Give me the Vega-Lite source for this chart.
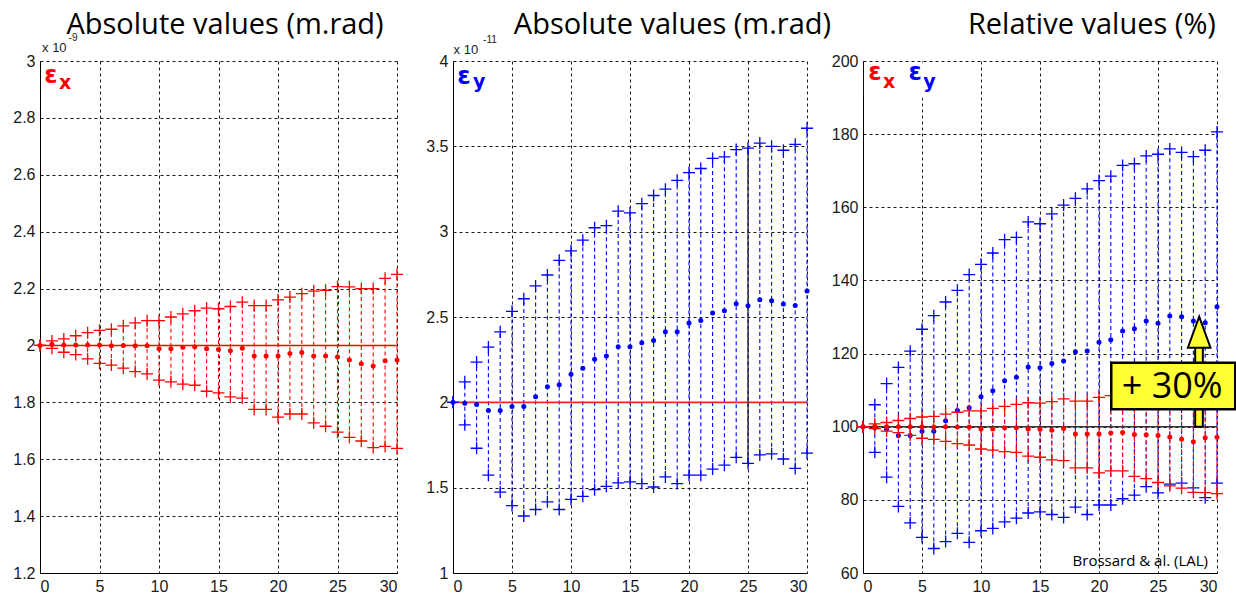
{
  "$schema": "https://vega.github.io/schema/vega-lite/v6.json",
  "background": "white",
  "padding": {"left": 12, "top": 10, "right": 0, "bottom": 0},
  "spacing": 56,
  "bounds": "flush",
  "datasets": {
    "ex": [
      {"x":0,"hi":2.0,"mid":2.0,"lo":2.0},
      {"x":1,"hi":2.016,"mid":2.004,"lo":1.99},
      {"x":2,"hi":2.023,"mid":2.002,"lo":1.976},
      {"x":3,"hi":2.034,"mid":2.002,"lo":1.968},
      {"x":4,"hi":2.045,"mid":2.002,"lo":1.953},
      {"x":5,"hi":2.053,"mid":2.002,"lo":1.937},
      {"x":6,"hi":2.057,"mid":1.999,"lo":1.931},
      {"x":7,"hi":2.069,"mid":2.0,"lo":1.92},
      {"x":8,"hi":2.079,"mid":1.999,"lo":1.908},
      {"x":9,"hi":2.087,"mid":1.999,"lo":1.9},
      {"x":10,"hi":2.087,"mid":1.988,"lo":1.878},
      {"x":11,"hi":2.1,"mid":1.988,"lo":1.872},
      {"x":12,"hi":2.111,"mid":1.994,"lo":1.864},
      {"x":13,"hi":2.122,"mid":1.995,"lo":1.86},
      {"x":14,"hi":2.131,"mid":1.988,"lo":1.839},
      {"x":15,"hi":2.129,"mid":1.986,"lo":1.833},
      {"x":16,"hi":2.137,"mid":1.981,"lo":1.819},
      {"x":17,"hi":2.152,"mid":1.99,"lo":1.815},
      {"x":18,"hi":2.14,"mid":1.963,"lo":1.775},
      {"x":19,"hi":2.14,"mid":1.963,"lo":1.775},
      {"x":20,"hi":2.16,"mid":1.963,"lo":1.748},
      {"x":21,"hi":2.17,"mid":1.972,"lo":1.759},
      {"x":22,"hi":2.182,"mid":1.975,"lo":1.759},
      {"x":23,"hi":2.191,"mid":1.963,"lo":1.728},
      {"x":24,"hi":2.194,"mid":1.963,"lo":1.716},
      {"x":25,"hi":2.207,"mid":1.959,"lo":1.695},
      {"x":26,"hi":2.206,"mid":1.949,"lo":1.677},
      {"x":27,"hi":2.2,"mid":1.936,"lo":1.664},
      {"x":28,"hi":2.2,"mid":1.928,"lo":1.641},
      {"x":29,"hi":2.236,"mid":1.946,"lo":1.645},
      {"x":30,"hi":2.25,"mid":1.949,"lo":1.638}
    ],
    "ey": [
      {"x":0,"hi":2.0,"mid":2.0,"lo":2.0},
      {"x":1,"hi":2.12,"mid":1.994,"lo":1.868},
      {"x":2,"hi":2.236,"mid":1.988,"lo":1.731},
      {"x":3,"hi":2.324,"mid":1.952,"lo":1.573},
      {"x":4,"hi":2.413,"mid":1.952,"lo":1.474},
      {"x":5,"hi":2.533,"mid":1.975,"lo":1.395},
      {"x":6,"hi":2.607,"mid":1.975,"lo":1.334},
      {"x":7,"hi":2.682,"mid":2.033,"lo":1.372},
      {"x":8,"hi":2.746,"mid":2.091,"lo":1.417},
      {"x":9,"hi":2.832,"mid":2.103,"lo":1.372},
      {"x":10,"hi":2.888,"mid":2.165,"lo":1.431},
      {"x":11,"hi":2.95,"mid":2.2,"lo":1.449},
      {"x":12,"hi":3.023,"mid":2.252,"lo":1.488},
      {"x":13,"hi":3.035,"mid":2.271,"lo":1.508},
      {"x":14,"hi":3.12,"mid":2.326,"lo":1.528},
      {"x":15,"hi":3.11,"mid":2.326,"lo":1.534},
      {"x":16,"hi":3.164,"mid":2.349,"lo":1.524},
      {"x":17,"hi":3.212,"mid":2.362,"lo":1.504},
      {"x":18,"hi":3.249,"mid":2.413,"lo":1.563},
      {"x":19,"hi":3.301,"mid":2.413,"lo":1.524},
      {"x":20,"hi":3.346,"mid":2.465,"lo":1.573},
      {"x":21,"hi":3.37,"mid":2.479,"lo":1.573},
      {"x":22,"hi":3.429,"mid":2.523,"lo":1.609},
      {"x":23,"hi":3.438,"mid":2.537,"lo":1.632},
      {"x":24,"hi":3.481,"mid":2.578,"lo":1.678},
      {"x":25,"hi":3.49,"mid":2.566,"lo":1.642},
      {"x":26,"hi":3.519,"mid":2.601,"lo":1.692},
      {"x":27,"hi":3.5,"mid":2.595,"lo":1.698},
      {"x":28,"hi":3.477,"mid":2.576,"lo":1.668},
      {"x":29,"hi":3.512,"mid":2.568,"lo":1.613},
      {"x":30,"hi":3.606,"mid":2.653,"lo":1.702}
    ],
    "rx": [
      {"x":0,"hi":100,"mid":100,"lo":100},
      {"x":1,"hi":100.8,"mid":100.1,"lo":99.5},
      {"x":2,"hi":101.15,"mid":100,"lo":98.8},
      {"x":3,"hi":101.7,"mid":100,"lo":98.4},
      {"x":4,"hi":102.25,"mid":100,"lo":97.65},
      {"x":5,"hi":102.65,"mid":100,"lo":96.85},
      {"x":6,"hi":102.85,"mid":99.95,"lo":96.55},
      {"x":7,"hi":103.45,"mid":100,"lo":96.0},
      {"x":8,"hi":103.95,"mid":99.95,"lo":95.4},
      {"x":9,"hi":104.35,"mid":99.95,"lo":95.0},
      {"x":10,"hi":104.35,"mid":99.4,"lo":93.9},
      {"x":11,"hi":105.0,"mid":99.4,"lo":93.6},
      {"x":12,"hi":105.55,"mid":99.7,"lo":93.2},
      {"x":13,"hi":106.1,"mid":99.75,"lo":93.0},
      {"x":14,"hi":106.55,"mid":99.4,"lo":91.95},
      {"x":15,"hi":106.45,"mid":99.3,"lo":91.65},
      {"x":16,"hi":106.85,"mid":99.05,"lo":90.95},
      {"x":17,"hi":107.6,"mid":99.5,"lo":90.75},
      {"x":18,"hi":107.0,"mid":98.0,"lo":88.75},
      {"x":19,"hi":107.0,"mid":98.0,"lo":88.75},
      {"x":20,"hi":108.0,"mid":98.0,"lo":87.4},
      {"x":21,"hi":108.5,"mid":98.3,"lo":87.95},
      {"x":22,"hi":109.1,"mid":98.4,"lo":87.95},
      {"x":23,"hi":109.55,"mid":97.9,"lo":86.4},
      {"x":24,"hi":109.7,"mid":97.8,"lo":85.8},
      {"x":25,"hi":110.35,"mid":97.6,"lo":84.75},
      {"x":26,"hi":110.3,"mid":97.2,"lo":83.85},
      {"x":27,"hi":110.0,"mid":96.6,"lo":83.2},
      {"x":28,"hi":110.0,"mid":95.9,"lo":82.05},
      {"x":29,"hi":111.8,"mid":97.0,"lo":82.0},
      {"x":30,"hi":112.5,"mid":97.1,"lo":81.7}
    ],
    "ry": [
      {"x":0,"hi":100,"mid":100,"lo":100},
      {"x":1,"hi":106.0,"mid":99.7,"lo":93.0},
      {"x":2,"hi":111.8,"mid":99.4,"lo":86.2},
      {"x":3,"hi":116.2,"mid":97.6,"lo":78.2},
      {"x":4,"hi":120.65,"mid":97.6,"lo":73.7},
      {"x":5,"hi":126.65,"mid":98.75,"lo":69.75},
      {"x":6,"hi":130.35,"mid":98.75,"lo":66.7},
      {"x":7,"hi":134.1,"mid":101.65,"lo":68.6},
      {"x":8,"hi":137.3,"mid":104.4,"lo":70.85},
      {"x":9,"hi":141.6,"mid":105.2,"lo":68.4},
      {"x":10,"hi":144.4,"mid":108.2,"lo":71.55},
      {"x":11,"hi":147.5,"mid":109.8,"lo":72.2},
      {"x":12,"hi":151.15,"mid":112.6,"lo":74.0},
      {"x":13,"hi":151.75,"mid":113.5,"lo":75.0},
      {"x":14,"hi":156.0,"mid":116.3,"lo":76.4},
      {"x":15,"hi":155.5,"mid":116.1,"lo":76.7},
      {"x":16,"hi":158.2,"mid":117.3,"lo":76.0},
      {"x":17,"hi":160.6,"mid":118.0,"lo":75.2},
      {"x":18,"hi":162.45,"mid":120.5,"lo":78.0},
      {"x":19,"hi":165.05,"mid":120.7,"lo":76.0},
      {"x":20,"hi":167.3,"mid":123.1,"lo":78.6},
      {"x":21,"hi":168.5,"mid":123.8,"lo":78.6},
      {"x":22,"hi":171.45,"mid":126.2,"lo":80.3},
      {"x":23,"hi":171.9,"mid":126.8,"lo":81.3},
      {"x":24,"hi":174.05,"mid":128.9,"lo":83.6},
      {"x":25,"hi":174.5,"mid":128.3,"lo":81.9},
      {"x":26,"hi":175.95,"mid":130.3,"lo":84.3},
      {"x":27,"hi":175.0,"mid":130.1,"lo":84.6},
      {"x":28,"hi":173.85,"mid":128.9,"lo":83.3},
      {"x":29,"hi":175.6,"mid":128.4,"lo":80.6},
      {"x":30,"hi":180.6,"mid":132.8,"lo":84.6}
    ],
    "one": [{"t": 0}]
  },
  "hconcat": [
    {
      "width": 357,
      "height": 512,
      "layer": [
        {
          "data": {"name": "ex"},
          "mark": {"type": "rule", "color": "#ff0000", "strokeDash": [4, 3], "strokeWidth": 1.1},
          "encoding": {
            "x": {"field": "x", "type": "quantitative", "scale": {"domain": [0, 30]}, "title": null},
            "y": {"field": "lo", "type": "quantitative", "scale": {"domain": [1.2, 3]}, "title": null,
                  "axis": {"values": [1.2, 1.4, 1.6, 1.8, 2, 2.2, 2.4, 2.6, 2.8, 3], "format": "~g"}},
            "y2": {"field": "hi"}
          }
        },
        {
          "data": {"name": "one"},
          "mark": {"type": "rule", "color": "#ff0000", "strokeWidth": 1.6},
          "encoding": {"x": {"datum": 0}, "x2": {"datum": 30}, "y": {"datum": 2}}
        },
        {
          "data": {"name": "ex"},
          "mark": {"type": "point", "shape": "M-1,0H1M0,-1V1", "size": 144, "filled": false, "stroke": "#ff0000", "strokeWidth": 1.3, "opacity": 1},
          "encoding": {"x": {"field": "x", "type": "quantitative", "title": null}, "y": {"field": "hi", "type": "quantitative", "title": null}}
        },
        {
          "data": {"name": "ex"},
          "mark": {"type": "point", "shape": "M-1,0H1M0,-1V1", "size": 144, "filled": false, "stroke": "#ff0000", "strokeWidth": 1.3, "opacity": 1},
          "encoding": {"x": {"field": "x", "type": "quantitative", "title": null}, "y": {"field": "lo", "type": "quantitative", "title": null}}
        },
        {
          "data": {"name": "ex"},
          "mark": {"type": "point", "shape": "circle", "size": 25, "filled": true, "color": "#ff0000", "opacity": 1},
          "encoding": {"x": {"field": "x", "type": "quantitative", "title": null}, "y": {"field": "mid", "type": "quantitative", "title": null}}
        },
        {
          "data": {"name": "one"},
          "mark": {"type": "text", "text": "Absolute values (m.rad)", "align": "center", "baseline": "alphabetic", "font": "Open Sans", "fontSize": 29, "color": "#000000"},
          "encoding": {"x": {"datum": 15.55}, "y": {"datum": 3.095}}
        },
        {
          "data": {"name": "one"},
          "mark": {"type": "text", "text": "ε", "align": "left", "baseline": "alphabetic", "font": "DejaVu Sans", "fontWeight": "bold", "fontSize": 24, "color": "#ff0000"},
          "encoding": {"x": {"datum": 0.35}, "y": {"datum": 2.923}}
        },
        {
          "data": {"name": "one"},
          "mark": {"type": "text", "text": "x", "align": "left", "baseline": "alphabetic", "font": "DejaVu Sans", "fontWeight": "bold", "fontSize": 19, "color": "#ff0000"},
          "encoding": {"x": {"datum": 1.6}, "y": {"datum": 2.9}}
        },
        {
          "data": {"name": "one"},
          "mark": {"type": "text", "text": "x 10", "align": "left", "baseline": "alphabetic", "font": "Liberation Sans", "fontSize": 13, "color": "#222222"},
          "encoding": {"x": {"datum": 0.17}, "y": {"datum": 3.032}}
        },
        {
          "data": {"name": "one"},
          "mark": {"type": "text", "text": "-9", "align": "left", "baseline": "alphabetic", "font": "Liberation Sans", "fontSize": 10, "color": "#222222"},
          "encoding": {"x": {"datum": 2.4}, "y": {"datum": 3.07}}
        }
      ]
    },
    {
      "width": 354,
      "height": 512,
      "layer": [
        {
          "data": {"name": "ey"},
          "mark": {"type": "rule", "color": "#0000ff", "strokeDash": [4, 3], "strokeWidth": 1.1},
          "encoding": {
            "x": {"field": "x", "type": "quantitative", "scale": {"domain": [0, 30]}, "title": null},
            "y": {"field": "lo", "type": "quantitative", "scale": {"domain": [1, 4]}, "title": null,
                  "axis": {"values": [1, 1.5, 2, 2.5, 3, 3.5, 4], "format": "~g"}},
            "y2": {"field": "hi"}
          }
        },
        {
          "data": {"name": "one"},
          "mark": {"type": "rule", "color": "#ff2020", "strokeWidth": 1.6},
          "encoding": {"x": {"datum": 0}, "x2": {"datum": 30}, "y": {"datum": 2}}
        },
        {
          "data": {"name": "one"},
          "mark": {"type": "rule", "color": "#333333", "strokeWidth": 1.3},
          "encoding": {"x": {"datum": 25}, "y": {"datum": 1.642}, "y2": {"datum": 3.49}}
        },
        {
          "data": {"name": "ey"},
          "mark": {"type": "point", "shape": "M-1,0H1M0,-1V1", "size": 144, "filled": false, "stroke": "#0000ff", "strokeWidth": 1.3, "opacity": 1},
          "encoding": {"x": {"field": "x", "type": "quantitative", "title": null}, "y": {"field": "hi", "type": "quantitative", "title": null}}
        },
        {
          "data": {"name": "ey"},
          "mark": {"type": "point", "shape": "M-1,0H1M0,-1V1", "size": 144, "filled": false, "stroke": "#0000ff", "strokeWidth": 1.3, "opacity": 1},
          "encoding": {"x": {"field": "x", "type": "quantitative", "title": null}, "y": {"field": "lo", "type": "quantitative", "title": null}}
        },
        {
          "data": {"name": "ey"},
          "mark": {"type": "point", "shape": "circle", "size": 25, "filled": true, "color": "#0000ff", "opacity": 1},
          "encoding": {"x": {"field": "x", "type": "quantitative", "title": null}, "y": {"field": "mid", "type": "quantitative", "title": null}}
        },
        {
          "data": {"name": "one"},
          "mark": {"type": "text", "text": "Absolute values (m.rad)", "align": "center", "baseline": "alphabetic", "font": "Open Sans", "fontSize": 29, "color": "#000000"},
          "encoding": {"x": {"datum": 18.6}, "y": {"datum": 4.158}}
        },
        {
          "data": {"name": "one"},
          "mark": {"type": "text", "text": "ε", "align": "left", "baseline": "alphabetic", "font": "DejaVu Sans", "fontWeight": "bold", "fontSize": 24, "color": "#0000ff"},
          "encoding": {"x": {"datum": 0.35}, "y": {"datum": 3.865}}
        },
        {
          "data": {"name": "one"},
          "mark": {"type": "text", "text": "y", "align": "left", "baseline": "alphabetic", "font": "DejaVu Sans", "fontWeight": "bold", "fontSize": 19, "color": "#0000ff"},
          "encoding": {"x": {"datum": 1.7}, "y": {"datum": 3.84}}
        },
        {
          "data": {"name": "one"},
          "mark": {"type": "text", "text": "x 10", "align": "left", "baseline": "alphabetic", "font": "Liberation Sans", "fontSize": 13, "color": "#222222"},
          "encoding": {"x": {"datum": 0.05}, "y": {"datum": 4.041}}
        },
        {
          "data": {"name": "one"},
          "mark": {"type": "text", "text": "-11", "align": "left", "baseline": "alphabetic", "font": "Liberation Sans", "fontSize": 10, "color": "#222222"},
          "encoding": {"x": {"datum": 2.55}, "y": {"datum": 4.105}}
        }
      ]
    },
    {
      "width": 354,
      "height": 512,
      "layer": [
        {
          "data": {"name": "ry"},
          "mark": {"type": "rule", "color": "#0000ff", "strokeDash": [4, 3], "strokeWidth": 1.1},
          "encoding": {
            "x": {"field": "x", "type": "quantitative", "scale": {"domain": [0, 30]}, "title": null},
            "y": {"field": "lo", "type": "quantitative", "scale": {"domain": [60, 200]}, "title": null,
                  "axis": {"values": [60, 80, 100, 120, 140, 160, 180, 200], "format": "d"}},
            "y2": {"field": "hi"}
          }
        },
        {
          "data": {"name": "one"},
          "mark": {"type": "rect", "color": "white", "opacity": 1},
          "encoding": {"x": {"datum": 0.08}, "x2": {"datum": 6.9}, "y": {"datum": 190}, "y2": {"datum": 199.6}}
        },
        {
          "data": {"name": "ry"},
          "mark": {"type": "point", "shape": "M-1,0H1M0,-1V1", "size": 144, "filled": false, "stroke": "#0000ff", "strokeWidth": 1.3, "opacity": 1},
          "encoding": {"x": {"field": "x", "type": "quantitative", "title": null}, "y": {"field": "hi", "type": "quantitative", "title": null}}
        },
        {
          "data": {"name": "ry"},
          "mark": {"type": "point", "shape": "M-1,0H1M0,-1V1", "size": 144, "filled": false, "stroke": "#0000ff", "strokeWidth": 1.3, "opacity": 1},
          "encoding": {"x": {"field": "x", "type": "quantitative", "title": null}, "y": {"field": "lo", "type": "quantitative", "title": null}}
        },
        {
          "data": {"name": "ry"},
          "mark": {"type": "point", "shape": "circle", "size": 25, "filled": true, "color": "#0000ff", "opacity": 1},
          "encoding": {"x": {"field": "x", "type": "quantitative", "title": null}, "y": {"field": "mid", "type": "quantitative", "title": null}}
        },
        {
          "data": {"name": "rx"},
          "mark": {"type": "rule", "color": "#ff0000", "strokeDash": [4, 3], "strokeWidth": 1.1},
          "encoding": {"x": {"field": "x", "type": "quantitative", "title": null}, "y": {"field": "lo", "type": "quantitative", "title": null}, "y2": {"field": "hi"}}
        },
        {
          "data": {"name": "one"},
          "mark": {"type": "rule", "color": "#333333", "strokeWidth": 1.6},
          "encoding": {"x": {"datum": 0}, "x2": {"datum": 30}, "y": {"datum": 100}}
        },
        {
          "data": {"name": "rx"},
          "mark": {"type": "point", "shape": "M-1,0H1M0,-1V1", "size": 144, "filled": false, "stroke": "#ff0000", "strokeWidth": 1.3, "opacity": 1},
          "encoding": {"x": {"field": "x", "type": "quantitative", "title": null}, "y": {"field": "hi", "type": "quantitative", "title": null}}
        },
        {
          "data": {"name": "rx"},
          "mark": {"type": "point", "shape": "M-1,0H1M0,-1V1", "size": 144, "filled": false, "stroke": "#ff0000", "strokeWidth": 1.3, "opacity": 1},
          "encoding": {"x": {"field": "x", "type": "quantitative", "title": null}, "y": {"field": "lo", "type": "quantitative", "title": null}}
        },
        {
          "data": {"name": "rx"},
          "mark": {"type": "point", "shape": "circle", "size": 25, "filled": true, "color": "#ff0000", "opacity": 1},
          "encoding": {"x": {"field": "x", "type": "quantitative", "title": null}, "y": {"field": "mid", "type": "quantitative", "title": null}}
        },
        {
          "data": {"name": "one"},
          "mark": {"type": "rect", "fill": "#ffff33", "stroke": "#000000", "strokeWidth": 2, "opacity": 1},
          "encoding": {"x": {"datum": 28.15}, "x2": {"datum": 28.8}, "y": {"datum": 100}, "y2": {"datum": 122.6}}
        },
        {
          "data": {"name": "one"},
          "mark": {"type": "point", "shape": "M0,-1L0.73,1L-0.73,1Z", "size": 961, "filled": true, "fill": "#ffff33", "stroke": "#000000", "strokeWidth": 2, "opacity": 1},
          "encoding": {"x": {"datum": 28.49}, "y": {"datum": 125.85}}
        },
        {
          "data": {"name": "one"},
          "mark": {"type": "rect", "fill": "#ffff33", "stroke": "#000000", "strokeWidth": 2.5, "opacity": 1},
          "encoding": {"x": {"datum": 21.04}, "x2": {"datum": 31.55}, "y": {"datum": 104.8}, "y2": {"datum": 117.5}}
        },
        {
          "data": {"name": "one"},
          "mark": {"type": "text", "text": "+ 30%", "align": "center", "baseline": "alphabetic", "font": "Open Sans", "fontSize": 36, "color": "#000000"},
          "encoding": {"x": {"datum": 26.2}, "y": {"datum": 107.8}}
        },
        {
          "data": {"name": "one"},
          "mark": {"type": "text", "text": "Relative values (%)", "align": "center", "baseline": "alphabetic", "font": "Open Sans", "fontSize": 29, "color": "#000000"},
          "encoding": {"x": {"datum": 19.4}, "y": {"datum": 207.4}}
        },
        {
          "data": {"name": "one"},
          "mark": {"type": "text", "text": "ε", "align": "left", "baseline": "alphabetic", "font": "DejaVu Sans", "fontWeight": "bold", "fontSize": 24, "color": "#ff0000"},
          "encoding": {"x": {"datum": 0.45}, "y": {"datum": 194.8}}
        },
        {
          "data": {"name": "one"},
          "mark": {"type": "text", "text": "x", "align": "left", "baseline": "alphabetic", "font": "DejaVu Sans", "fontWeight": "bold", "fontSize": 19, "color": "#ff0000"},
          "encoding": {"x": {"datum": 1.7}, "y": {"datum": 192.6}}
        },
        {
          "data": {"name": "one"},
          "mark": {"type": "text", "text": "ε", "align": "left", "baseline": "alphabetic", "font": "DejaVu Sans", "fontWeight": "bold", "fontSize": 24, "color": "#0000ff"},
          "encoding": {"x": {"datum": 3.85}, "y": {"datum": 194.8}}
        },
        {
          "data": {"name": "one"},
          "mark": {"type": "text", "text": "y", "align": "left", "baseline": "alphabetic", "font": "DejaVu Sans", "fontWeight": "bold", "fontSize": 19, "color": "#0000ff"},
          "encoding": {"x": {"datum": 5.1}, "y": {"datum": 192.6}}
        },
        {
          "data": {"name": "one"},
          "mark": {"type": "text", "text": "Brossard & al. (LAL)", "align": "right", "baseline": "alphabetic", "font": "Open Sans", "fontSize": 15, "color": "#000000"},
          "encoding": {"x": {"datum": 29.24}, "y": {"datum": 61.9}}
        }
      ]
    }
  ],
  "config": {
    "view": {"stroke": null},
    "axis": {
      "labelFont": "Liberation Sans",
      "labelFontSize": 16,
      "labelColor": "#1a1a1a",
      "domainColor": "#000000",
      "domainWidth": 1,
      "ticks": false,
      "labelPadding": 5,
      "grid": true,
      "gridColor": "#000000",
      "gridDash": [3, 3],
      "gridWidth": 1,
      "gridOpacity": 0.9
    },
    "axisX": {"values": [0, 5, 10, 15, 20, 25, 30], "labelAngle": 0}
  }
}
